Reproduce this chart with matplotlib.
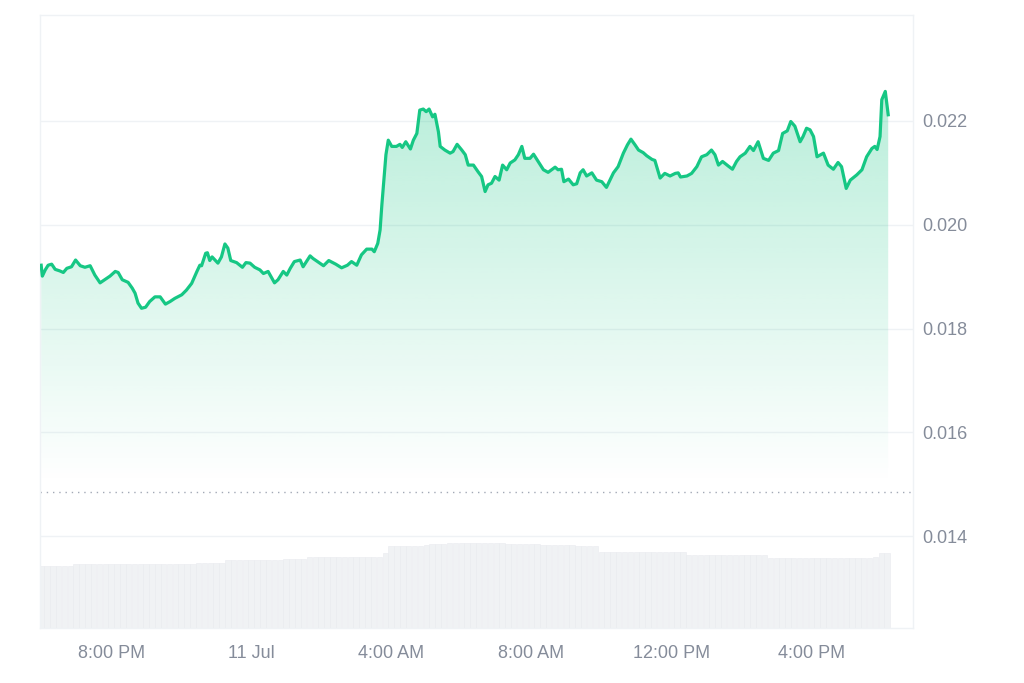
import numpy as np
import pandas as pd
import matplotlib
matplotlib.use("Agg")
import matplotlib.pyplot as plt
import matplotlib.dates as mdates
from matplotlib.colors import to_rgb

plt.rcParams['font.family'] = ['Liberation Sans', 'DejaVu Sans']

# price samples, minutes after 10 Jul 18:00
minutes = [0, 2, 7, 12, 18, 24, 32, 38, 44, 52, 59, 67, 75, 84, 92, 101, 109, 118, 127, 132,
           139, 149, 156, 161, 166, 172, 179, 186, 195, 204, 213, 221, 229, 241, 249, 258, 267, 272, 275, 282,
           285, 289, 293, 303, 309, 315, 320, 325, 335, 345, 351, 358, 366, 375, 381, 389, 400, 406, 415, 421,
           427, 434, 444, 449, 461, 466, 475, 484, 493, 505, 515, 525, 532, 541, 549, 558, 567, 571, 577, 581,
           584, 591, 595, 601, 609, 615, 619, 625, 633, 638, 644, 649, 655, 660, 665, 671, 675, 681, 684, 692,
           701, 706, 713, 721, 727, 732, 741, 749, 755, 761, 766, 772, 778, 785, 791, 798, 804, 812, 818, 824,
           829, 838, 844, 852, 861, 869,
           875, 881, 886, 892, 896, 904, 912, 918, 924, 929, 935, 944, 952, 961, 969, 975, 981, 989, 998, 1005,
           1011, 1018, 1024, 1032, 1038, 1047, 1052, 1061, 1069, 1078, 1087, 1092, 1096, 1107, 1115, 1124, 1132,
           1141, 1149, 1155, 1161,
           1168, 1178, 1185, 1192, 1198, 1207, 1215, 1221, 1229, 1238, 1247, 1255, 1264, 1271, 1279, 1285, 1292,
           1301, 1306, 1312, 1318, 1324, 1330, 1341, 1349, 1358, 1366, 1372, 1380, 1387, 1398, 1407, 1415, 1424,
           1429, 1433, 1438, 1441, 1447, 1452]

price = [0.01922, 0.01901, 0.01913, 0.01922, 0.01924, 0.01914, 0.01911, 0.01908, 0.01916, 0.01919,
         0.01932, 0.01921, 0.01918, 0.01921, 0.01903, 0.01888, 0.01894, 0.01901, 0.01910, 0.01908,
         0.01894, 0.01889, 0.01878, 0.01868, 0.01849, 0.01839, 0.01841, 0.01852, 0.01861, 0.01861,
         0.01847, 0.01852, 0.01858, 0.01865, 0.01874, 0.01887, 0.01910, 0.01922, 0.01921, 0.01945,
         0.01946, 0.01931, 0.01938, 0.01926, 0.01938, 0.01963, 0.01955, 0.01931, 0.01927, 0.01918,
         0.01927, 0.01926, 0.01918, 0.01913, 0.01906, 0.01910, 0.01888, 0.01894, 0.01910, 0.01903,
         0.01916, 0.01929, 0.01932, 0.01919, 0.01940, 0.01935, 0.01928, 0.01921, 0.01931, 0.01924,
         0.01917, 0.01922, 0.01929, 0.01922, 0.01942, 0.01953, 0.01953, 0.01948, 0.01964, 0.01990,
         0.02038, 0.02135, 0.02163, 0.02151, 0.02151, 0.02155, 0.02149, 0.02160, 0.02146, 0.02163,
         0.02176, 0.02221, 0.02223, 0.02218, 0.02223, 0.02208, 0.02213, 0.02179, 0.02151, 0.02144,
         0.02138, 0.02141, 0.02155, 0.02144, 0.02135, 0.02115, 0.02115, 0.02102, 0.02093, 0.02064,
         0.02077, 0.02080, 0.02093, 0.02086, 0.02115, 0.02106, 0.02119, 0.02125, 0.02135, 0.02151,
         0.02128, 0.02128, 0.02136, 0.02122, 0.02106, 0.02101,
         0.02106, 0.02111, 0.02106, 0.02107, 0.02083, 0.02088, 0.02077, 0.02079, 0.02100, 0.02106,
         0.02094, 0.02100, 0.02086, 0.02083, 0.02072, 0.02086, 0.02100, 0.02112, 0.02138, 0.02154,
         0.02165, 0.02154, 0.02144, 0.02139, 0.02133, 0.02126, 0.02124, 0.02090, 0.02099, 0.02094,
         0.02099, 0.02100, 0.02092, 0.02094, 0.02099, 0.02112, 0.02131, 0.02135, 0.02144, 0.02135,
         0.02115,
         0.02122, 0.02113, 0.02107, 0.02122, 0.02131, 0.02138, 0.02151, 0.02143, 0.02160, 0.02128,
         0.02124, 0.02138, 0.02143, 0.02176, 0.02181, 0.02199, 0.02190, 0.02160, 0.02170, 0.02186,
         0.02183, 0.02170, 0.02131, 0.02138, 0.02115, 0.02107, 0.02120, 0.02112, 0.02070, 0.02086,
         0.02096, 0.02106, 0.02131, 0.02147, 0.02151, 0.02145, 0.02170, 0.02241, 0.02257, 0.02212]

# volume bars every 10 minutes (millions)
volume = [6.2, 6.2, 6.2, 6.2, 6.2, 6.2,
          6.4, 6.4, 6.4, 6.4, 6.4, 6.4,
          6.4, 6.4, 6.4, 6.4, 6.4, 6.4,
          6.4, 6.4, 6.4, 6.4, 6.4, 6.4,
          6.4, 6.4, 6.4, 6.5, 6.5, 6.5,
          6.5, 6.5, 6.8, 6.8, 6.8, 6.8,
          6.8, 6.8, 6.8, 6.8, 6.8, 6.8,
          6.9, 6.9, 6.9, 6.9, 7.1, 7.1,
          7.1, 7.1, 7.1, 7.1, 7.1, 7.1,
          7.1, 7.1, 7.1, 7.1, 7.1, 7.5,
          8.2, 8.2, 8.2, 8.2, 8.2, 8.2,
          8.3, 8.4, 8.4, 8.4, 8.5, 8.5,
          8.5, 8.5, 8.5, 8.5, 8.5, 8.5,
          8.5, 8.5, 8.4, 8.4, 8.4, 8.4,
          8.4, 8.4, 8.3, 8.3, 8.3, 8.3,
          8.3, 8.3, 8.2, 8.2, 8.2, 8.2,
          7.6, 7.6, 7.6, 7.6, 7.6, 7.6,
          7.6, 7.6, 7.6, 7.6, 7.6, 7.6,
          7.6, 7.6, 7.6, 7.3, 7.3, 7.3,
          7.3, 7.3, 7.3, 7.3, 7.3, 7.3,
          7.3, 7.3, 7.3, 7.3, 7.3, 7.0,
          7.0, 7.0, 7.0, 7.0, 7.0, 7.0,
          7.0, 7.0, 7.0, 7.0, 7.0, 7.0,
          7.0, 7.0, 7.0, 7.0, 7.0, 7.1,
          7.5, 7.5]

tick_times = ['2024-07-10 20:00', '2024-07-11 00:00', '2024-07-11 04:00',
              '2024-07-11 08:00', '2024-07-11 12:00', '2024-07-11 16:00']
tick_labels = ['8:00 PM', '11 Jul', '4:00 AM', '8:00 AM', '12:00 PM', '4:00 PM']
price_ticks = [0.014, 0.016, 0.018, 0.020, 0.022]
open_price = 0.01485

GREEN = '#16c784'
GREY = '#858c9a'
LIGHT = '#eff2f5'

start = pd.Timestamp('2024-07-10 18:00')
xs = mdates.date2num((start + pd.to_timedelta(minutes, unit='m')).to_pydatetime())
vol_x = mdates.date2num((start + pd.to_timedelta(np.arange(len(volume)) * 10, unit='m')).to_pydatetime())
x0 = mdates.date2num((start - pd.Timedelta(minutes=2)).to_pydatetime())
x1 = mdates.date2num((start + pd.Timedelta(minutes=1494.5)).to_pydatetime())

fig = plt.figure(figsize=(10.24, 6.83), dpi=100)
rect = [40 / 1024, 55 / 683, 873 / 1024, 613 / 683]

# volume first so it sits behind the price axes
vax = fig.add_axes(rect)
vax.bar(vol_x, volume, width=9.2 / 1440, color='#f0f2f4', edgecolor='#e9ebef', linewidth=0.4)
vax.set_xlim(x0, x1)
vax.set_ylim(0, 61.3)
vax.axis('off')

ax = fig.add_axes(rect)
ax.patch.set_visible(False)
ax.set_xlim(x0, x1)
ax.set_ylim(0.012227, 0.024043)

# gradient fill under the line
fill_bottom = 0.0150
poly = ax.fill_between(xs, price, fill_bottom, facecolor='none', edgecolor='none')
r, g, b = to_rgb(GREEN)
grad = np.zeros((256, 1, 4))
grad[:, 0, 0] = r
grad[:, 0, 1] = g
grad[:, 0, 2] = b
grad[:, 0, 3] = np.linspace(0, 0.3, 256)
im = ax.imshow(grad, extent=[xs[0], xs[-1], fill_bottom, max(price)], origin='lower',
               aspect='auto', interpolation='bilinear', zorder=1)
im.set_clip_path(poly.get_paths()[0], transform=ax.transData)

ax.plot(xs, price, color=GREEN, lw=2.3, solid_joinstyle='round', zorder=3)

ax.axhline(open_price, color='#a3a9b6', lw=1, ls=(0, (1, 3.5)), zorder=2)

ax.yaxis.tick_right()
ax.set_yticks(price_ticks)
ax.set_yticklabels(['%.3f' % v for v in price_ticks])
ax.set_xticks(mdates.date2num(pd.to_datetime(tick_times).to_pydatetime()))
ax.set_xticklabels(tick_labels)
ax.tick_params(axis='both', length=0, labelcolor=GREY, labelsize=13)
ax.tick_params(axis='x', pad=12)
ax.tick_params(axis='y', pad=7)

ax.set_axisbelow(True)
ax.yaxis.grid(True, color=LIGHT, lw=1)
for s in ax.spines.values():
    s.set_color(LIGHT)
    s.set_linewidth(1)

fig.savefig('out.png', dpi=100, facecolor='white')
